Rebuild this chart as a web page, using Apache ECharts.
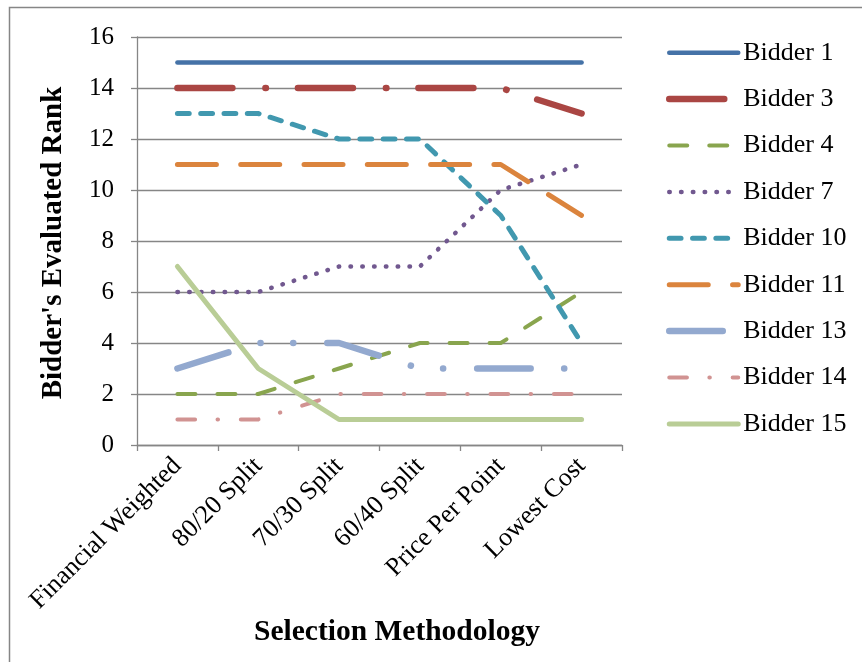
<!DOCTYPE html>
<html>
<head>
<meta charset="utf-8">
<script src="https://cdn.jsdelivr.net/npm/echarts@6/dist/echarts.min.js"></script>
<style>
  html, body { margin: 0; padding: 0; background: #fff; }
  #chart { width: 862px; height: 662px; }
</style>
</head>
<body>
<div id="chart"></div>
<script>
// Selection methods on the category axis
const methods = ['Financial Weighted', '80/20 Split', '70/30 Split', '60/40 Split', 'Price Per Point', 'Lowest Cost'];

// Evaluated rank of each bidder under each method
const bidder1 = [15, 15, 15, 15, 15, 15];
const bidder3 = [14, 14, 14, 14, 14, 13];
const bidder4 = [2, 2, 3, 4, 4, 6];
const bidder7 = [6, 6, 7, 7, 10, 11];
const bidder10 = [13, 13, 12, 12, 9, 4];
const bidder11 = [11, 11, 11, 11, 11, 9];
const bidder13 = [3, 4, 4, 3, 3, 3];
const bidder14 = [1, 1, 2, 2, 2, 2];
const bidder15 = [7, 3, 1, 1, 1, 1];

const seriesNames = ['Bidder 1', 'Bidder 3', 'Bidder 4', 'Bidder 7', 'Bidder 10', 'Bidder 11', 'Bidder 13', 'Bidder 14', 'Bidder 15'];
const seriesValues = [bidder1, bidder3, bidder4, bidder7, bidder10, bidder11, bidder13, bidder14, bidder15];

// Rank axis ticks
const rankMin = 0, rankMax = 16, rankStep = 2;

// Line looks: colour, width, dash pattern
const looks = [
  { color: '#4572A7', width: 4.5, dash: 'solid' },
  { color: '#AA4643', width: 6.5, dash: [55, 33, 0.5, 32] },
  { color: '#89A54E', width: 4, dash: [18, 22] },
  { color: '#71588F', width: 4.5, dash: [0.5, 11.3] },
  { color: '#4198AF', width: 5, dash: [11.8, 11.5] },
  { color: '#DB843D', width: 5, dash: [39, 24.3] },
  { color: '#93A9CF', width: 6.5, dash: [53.5, 33.5, 0.1, 32.6, 0.1, 34] },
  { color: '#D19392', width: 4, dash: [17.7, 22.4, 0.5, 22.8] },
  { color: '#B9CD96', width: 5, dash: 'solid' }
];

const serif = '"Liberation Serif", "Times New Roman", serif';
const axisGray = '#868686';

const series = seriesNames.map((name, i) => ({
  name: name,
  type: 'line',
  data: seriesValues[i],
  symbol: 'none',
  smooth: false,
  animation: false,
  lineStyle: {
    color: looks[i].color,
    width: looks[i].width,
    type: looks[i].dash,
    cap: 'round',
    join: 'round'
  },
  itemStyle: { color: looks[i].color }
}));

const chart = echarts.init(document.getElementById('chart'), null, { renderer: 'canvas' });
chart.setOption({
  animation: false,
  backgroundColor: '#ffffff',
  grid: { left: 137, right: 240, top: 37, bottom: 217, containLabel: false },
  xAxis: {
    type: 'category',
    data: methods,
    boundaryGap: true,
    axisLine: { lineStyle: { color: axisGray, width: 1.3 } },
    axisTick: { show: true, length: 6, lineStyle: { color: axisGray, width: 1.3 } },
    axisLabel: {
      rotate: 45, margin: 17, color: '#000',
      fontFamily: serif, fontSize: 26, interval: 0
    },
    splitLine: { show: false }
  },
  yAxis: {
    type: 'value',
    min: rankMin, max: rankMax, interval: rankStep,
    axisLine: { show: true, lineStyle: { color: axisGray, width: 1.3 } },
    axisTick: { show: true, inside: false, length: 6, lineStyle: { color: axisGray, width: 1.3 } },
    axisLabel: { margin: 23, color: '#000', fontFamily: serif, fontSize: 25 },
    splitLine: { show: true, lineStyle: { color: axisGray, width: 1.3 } }
  },
  legend: {
    orient: 'vertical',
    left: 661, top: 32.7,
    itemWidth: 69, itemHeight: 14, itemGap: 16.4,
    itemStyle: { opacity: 0 },
    lineStyle: { width: 'inherit' },
    textStyle: { color: '#000', fontFamily: serif, fontSize: 26, lineHeight: 30 },
    data: seriesNames
  },
  graphic: [
    {
      type: 'rect', silent: true,
      shape: { x: 9.5, y: 7.5, width: 1000, height: 1000 },
      style: { fill: 'none', stroke: axisGray, lineWidth: 1.5 }
    },
    {
      type: 'text', silent: true,
      x: 397, y: 632,
      style: {
        text: 'Selection Methodology', fill: '#000',
        font: 'bold 29.5px ' + serif, align: 'center', verticalAlign: 'middle'
      }
    },
    {
      type: 'text', silent: true,
      x: 54, y: 243, rotation: Math.PI / 2,
      style: {
        text: "Bidder's Evaluated Rank", fill: '#000',
        font: 'bold 29px ' + serif, align: 'center', verticalAlign: 'middle'
      }
    }
  ],
  series: series
});
</script>
</body>
</html>
